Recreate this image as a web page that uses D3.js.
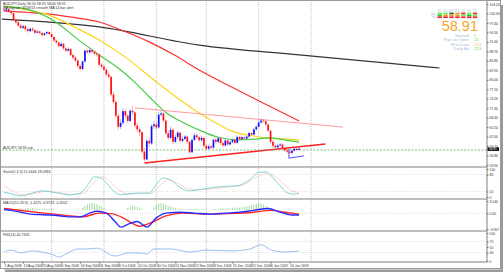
<!DOCTYPE html>
<html>
<head>
<meta charset="utf-8">
<script src="https://cdn.jsdelivr.net/npm/d3@7"></script>
<style>
  body { margin: 0; background: #fff; }
  text { font-family: "Liberation Sans", Arial, sans-serif; }
</style>
</head>
<body>
<div id="container"></div>
<script>
// ---- data (AUDJPY daily, 1 Aug 2008 .. 22 Jan 2009) ----
const opens = [
  101.5,101.2,101.6,100.8,100.4,98.3,97.6,96.6,95.9,96.4,
  95.5,94.9,95.6,95.2,94.4,94.8,94.3,93.7,94.2,94.6,
  94.0,93.1,92.0,91.4,90.3,91.0,89.6,88.9,89.4,87.6,
  86.8,85.9,84.2,83.3,85.6,88.9,88.4,89.1,88.6,88.0,
  87.7,84.6,84.0,83.1,81.6,80.9,75.5,73.2,69.0,65.6,
  66.8,70.4,69.0,67.4,70.5,70.0,66.0,64.8,63.9,58.0,
  55.6,61.3,60.5,65.8,66.3,65.4,69.3,69.7,67.5,63.6,
  62.2,64.7,61.0,62.5,63.8,61.3,61.9,62.6,61.0,57.8,
  61.6,63.0,62.4,61.5,62.2,59.8,58.9,59.6,59.2,61.6,
  61.0,62.1,60.6,59.9,61.4,60.2,60.9,61.6,60.7,62.5,
  61.8,62.4,62.0,62.6,63.7,63.2,64.8,65.6,66.9,67.5,
  67.3,66.3,64.4,61.0,59.8,59.3,59.9,60.2,59.0,58.4,
  58.0,57.6,58.3,58.9,58.5
];
const closes = [
  101.2,101.6,100.8,100.4,98.3,97.6,96.6,95.9,96.4,95.5,
  94.9,95.6,95.2,94.4,94.8,94.3,93.7,94.2,94.6,94.0,
  93.1,92.0,91.4,90.3,91.0,89.6,88.9,89.4,87.6,86.8,
  85.9,84.2,83.3,85.6,88.9,88.4,89.1,88.6,88.0,87.7,
  84.6,84.0,83.1,81.6,80.9,75.5,73.2,69.0,65.6,66.8,
  70.4,69.0,67.4,70.5,70.0,66.0,64.8,63.9,58.0,55.6,
  61.3,60.5,65.8,66.3,65.4,69.3,69.7,67.5,63.6,62.2,
  64.7,61.0,62.5,63.8,61.3,61.9,62.6,61.0,57.8,61.6,
  63.0,62.4,61.5,62.2,59.8,58.9,59.6,59.2,61.6,61.0,
  62.1,60.6,59.9,61.4,60.2,60.9,61.6,60.7,62.5,61.8,
  62.4,62.0,62.6,63.7,63.2,64.8,65.6,66.9,67.5,67.3,
  66.3,64.4,61.0,59.8,59.3,59.9,60.2,59.0,58.4,58.0,
  57.6,58.3,58.9,58.5,58.91
];
const highs = [
  102.1,102.0,101.9,101.2,100.6,98.8,97.9,97.1,96.9,96.8,
  95.9,96.0,96.1,95.5,95.3,95.1,94.6,94.6,95.0,94.9,
  94.3,93.4,92.4,91.8,91.5,91.2,90.1,89.9,89.6,88.1,
  87.3,86.2,84.8,85.9,89.3,89.6,89.7,89.5,89.0,88.5,
  88.0,85.2,84.7,83.5,82.3,81.3,76.4,73.8,69.8,67.9,
  71.3,71.0,69.6,71.1,72.0,70.4,66.9,65.5,64.3,59.1,
  61.9,62.4,66.4,67.4,67.0,70.1,70.6,70.0,67.9,64.5,
  65.6,65.1,63.2,64.4,64.1,62.7,63.1,62.9,61.3,62.0,
  63.6,63.5,62.8,62.9,62.5,60.4,60.2,60.1,62.0,62.1,
  62.7,62.4,61.1,61.9,61.7,61.4,62.0,61.9,63.0,62.8,
  62.8,62.7,63.0,64.1,64.0,65.2,66.1,67.3,68.2,68.0,
  67.6,66.6,64.6,61.5,60.3,60.4,60.7,60.5,59.4,58.8,
  58.3,58.7,59.3,59.2,59.3
];
const lows = [
  100.9,100.8,100.5,99.9,97.9,97.0,96.1,95.4,95.5,95.0,
  94.4,94.6,94.8,94.0,94.1,93.9,93.2,93.4,93.9,93.6,
  92.7,91.6,90.9,89.9,90.0,89.1,88.4,88.5,87.1,86.2,
  85.3,83.6,82.5,82.9,85.2,87.9,88.0,88.1,87.4,87.0,
  84.0,83.3,82.6,80.9,80.2,74.8,72.4,68.2,64.6,64.9,
  66.2,68.1,66.7,67.0,69.2,65.3,63.9,62.8,57.2,54.9,
  55.2,59.3,60.1,65.0,64.6,65.0,68.8,66.9,63.0,61.6,
  61.8,60.3,60.6,61.9,60.6,60.9,61.5,60.5,57.3,57.5,
  61.2,61.8,60.9,61.1,59.2,58.4,58.5,58.7,58.9,60.4,
  60.6,60.0,59.3,59.6,59.8,59.9,60.5,60.2,60.4,61.4,
  61.5,61.6,61.7,62.3,62.8,63.0,64.5,65.3,66.6,66.8,
  65.9,63.9,60.5,59.2,58.8,58.9,59.6,58.6,57.9,57.4,
  57.1,57.2,58.0,58.1,58.4
];

// moving averages, [bar index, price]
const maGreen = [[0,102.4],[7,102.0],[19,98.9],[33,91.3],[40,87.6],[48,83.6],[55,79.2],[61,74.8],[68,70.0],[75,67.0],[82,64.6],[90,62.4],[99,61.6],[105,61.8],[111,62.2],[118,61.6],[124,60.9]];
const maYellow = [[0,102.6],[8,101.6],[19,99.8],[30,96.0],[40,92.2],[52,86.4],[63,79.9],[74,73.8],[82,69.8],[90,66.4],[96,64.2],[103,63.0],[110,62.2],[117,61.9],[124,61.6]];
const maRed = [[0,101.0],[10,100.6],[19,100.1],[30,99.0],[40,97.7],[50,95.0],[61,91.6],[72,87.4],[82,83.0],[95,78.0],[108,73.2],[124,67.4]];
const maBlack = [[-1,98.6],[40,96.2],[82,90.6],[124,87.6],[183,83.6]];

// drawn trend lines, [bar index, price]
const lineResist = [[55,71.4],[142.5,65.5]];
const lineSupport = [[59,54.5],[135,60.3]];
const lineBlue = [[119.7,58.8],[119.7,56.0],[126,56.7]];
const askPrice = 58.5;
const lastPrice = "58.91";

// indicators, [bar index, value]
const stochMain = [[0,17],[2,14],[7,4],[12,14],[16,22],[20,18],[24,12],[27,7],[32,14],[35,40],[38,72],[40,70],[43,50],[46,22],[49,8],[53,12],[57,14],[61,14],[64,45],[67,68],[70,60],[74,34],[78,22],[83,28],[88,34],[93,38],[98,40],[103,60],[107,88],[110,90],[113,69],[116,40],[119,15],[122,10],[124,14]];
const stochSignal = [[0,40],[3,24],[8,8],[13,13],[18,20],[23,16],[28,10],[33,12],[37,45],[41,72],[44,58],[48,28],[52,10],[57,13],[62,14],[66,45],[69,62],[73,48],[77,32],[82,26],[88,30],[95,36],[101,45],[106,70],[110,85],[114,72],[118,42],[121,22],[124,16]];
const macdMain = [[0,1.0],[3,0.77],[7,0.3],[11,-0.18],[15,-0.3],[19,-0.41],[24,-0.65],[28,-0.89],[32,-0.89],[36,0.06],[39,0.53],[43,0.06],[47,-2.31],[49,-3.49],[52,-2.78],[56,-2.07],[60,-3.49],[64,-1.13],[68,0.06],[74,0.3],[80,0.06],[87,-0.18],[93,0.06],[99,0.3],[105,0.77],[111,1.25],[116,0.3],[121,-0.41],[124,-0.41]];
const macdSignal = [[0,1.25],[10,0.53],[19,-0.06],[28,-0.65],[33,-0.89],[40,0.06],[45,-0.06],[50,-1.13],[54,-2.55],[57,-3.26],[62,-2.31],[68,-0.65],[75,0.06],[85,-0.18],[95,-0.06],[105,0.3],[112,0.77],[118,0.3],[124,-0.18]];
const macdHist = [
  0,0,0,0,0,
  0.1,0.15,0.2,0.2,0.25,0.3,0.25,0.3,0.2,0.2,0.15,0.2,0.25,0.2,0.15,0.1,0.1,0.05,
  0,0,0,0,0,0,0,0,0,0,
  0.3,0.6,0.8,0.9,1.0,0.9,0.8,0.7,0.5,0.3,0.1,
  0,0,0,0,0,0,0,0,
  0.3,0.5,0.6,0.5,0.4,0.3,0.2,
  0,0,0,0,
  0.4,0.7,0.9,1.0,0.9,0.8,0.6,0.5,0.4,0.3,
  0.2,0.2,0.15,0.1,0.1,0.1,0.15,0.2,0.2,0.15,0.1,0.1,0.05,0,
  0,0.1,0.15,0.2,0.2,0.25,0.2,0.25,0.3,0.3,0.35,0.3,0.35,
  0.4,0.45,0.5,0.6,0.7,0.8,0.9,1.0,0.9,0.8,0.6,0.4,0.2,
  0,0,0,0,0,0,0,0,0,0,0,0
];
const rsiLine = [[0,32],[3,39],[7,29],[12,36],[16,32],[21,21],[23,14],[26,25],[31,43],[35,43],[39,46],[42,36],[45,21],[47,18],[52,29],[57,29],[60,25],[63,43],[70,43],[78,32],[85,39],[95,36],[103,42],[108,58],[112,40],[118,32],[124,36]];

// axis labels
const priceTicks = [103.20,100.30,97.40,94.50,91.60,88.70,85.80,82.90,80.00,77.10,74.20,71.30,68.40,65.50,62.60,59.70,56.80,53.90];
const stochTicks = [100,80,20,0];
const macdTicks = [3.140,0,-3.967];
const macdTickText = ["3.140","0.00","-3.967"];
const rsiTicks = [100,70,50,30,0];
const dateIdx = [0,8,16,24,32,40,48,56,64,72,80,88,96,104,112,120];
const dateLabels = ["1 Aug 2008","13 Aug 2008","25 Aug 2008","4 Sep 2008","16 Sep 2008","26 Sep 2008","8 Oct 2008","20 Oct 2008","30 Oct 2008","11 Nov 2008","21 Nov 2008","3 Dec 2008","15 Dec 2008","25 Dec 2008","6 Jan 2009","16 Jan 2009"];
const gridIdx = [20,42,64,85,107,129];

// info block
const tfNames = ["M1","M5","M15","M30","H1","H4","D1"];
const tfColors = [
  ["#66ee55","#22cc22","#ee2222"],
  ["#66ee55","#ee9933","#ee2222"],
  ["#226622","#ee9933","#ee2222"],
  ["#ee9933","#ee9933","#ee2222"],
  ["#ee2222","#66ee55","#ee2222"],
  ["#66ee55","#22cc22","#ee2222"],
  ["#ee2222","#66ee55","#ee2222"]
];
const infoNames = ["Spread","Pips to Open","Hi to Low","Daily Av"];
const infoValues = ["6","15","213","215"];
const infoColors = ["#e8cc40","#66dd44","#e8cc40","#66dd44"];

// ---- drawing ----
const W = 504, H = 273;
const plotL = 2, plotR = 487;
const svg = d3.select("#container").append("svg").attr("width", W).attr("height", H);

// window shadow and frame
svg.append("rect").attr("x", 5).attr("y", 5).attr("width", 498).attr("height", 267).attr("fill", "#9a9a9a");
svg.append("rect").attr("x", 4).attr("y", 4).attr("width", 497).attr("height", 266).attr("fill", "#c8c8c8");
svg.append("rect").attr("x", 0.5).attr("y", 0.5).attr("width", 500).attr("height", 268).attr("fill", "#fff").attr("stroke", "#9a9a9a");

const x = d3.scaleLinear().domain([0, 100]).range([4, 242]);
const panels = {
  main: { top: 2, bottom: 167 },
  stoch: { top: 167, bottom: 199 },
  macd: { top: 199, bottom: 231 },
  rsi: { top: 231, bottom: 262 }
};
const yPrice = d3.scaleLinear().domain([53.9, 103.2]).range([165, 4]);
const yStoch = d3.scaleLinear().domain([0, 100]).range([197, 169]);
const yMacd = d3.scaleLinear().domain([-3.967, 3.14]).range([229, 201]);
const yHist = d3.scaleLinear().domain([0, 1]).range([210, 203]);
const yRsi = d3.scaleLinear().domain([0, 100]).range([261, 233]);

const defs = svg.append("defs");
Object.entries(panels).forEach(([k, p]) => {
  defs.append("clipPath").attr("id", "clip-" + k)
    .append("rect").attr("x", plotL).attr("y", p.top).attr("width", plotR - plotL).attr("height", p.bottom - p.top);
});

// vertical grid
svg.append("g").selectAll("line").data(gridIdx).join("line")
  .attr("x1", d => x(d)).attr("x2", d => x(d))
  .attr("y1", 2).attr("y2", 262)
  .attr("stroke", "#b0b0b0").attr("stroke-width", 0.8).attr("stroke-dasharray", "1,1");

// level lines in the indicator windows
const levels = [[yStoch, 80], [yStoch, 20], [yMacd, 0], [yRsi, 70], [yRsi, 30]];
svg.append("g").selectAll("line").data(levels).join("line")
  .attr("x1", plotL).attr("x2", plotR)
  .attr("y1", d => d[0](d[1])).attr("y2", d => d[0](d[1]))
  .attr("stroke", "#c8c8c8").attr("stroke-width", 0.6).attr("stroke-dasharray", "1,1.5");

// ---- main window ----
const gMain = svg.append("g").attr("clip-path", "url(#clip-main)");
const lineP = d3.line().x(d => x(d[0])).y(d => yPrice(d[1])).curve(d3.curveMonotoneX);
const lineStraight = d3.line().x(d => x(d[0])).y(d => yPrice(d[1]));

gMain.append("path").datum(maBlack).attr("d", lineP).attr("fill", "none").attr("stroke", "#333").attr("stroke-width", 1.2);
gMain.append("path").datum(maRed).attr("d", lineP).attr("fill", "none").attr("stroke", "#ff3030").attr("stroke-width", 1.2);
gMain.append("path").datum(maYellow).attr("d", lineP).attr("fill", "none").attr("stroke", "#ffd21a").attr("stroke-width", 1.2);
gMain.append("path").datum(maGreen).attr("d", lineP).attr("fill", "none").attr("stroke", "#44cc44").attr("stroke-width", 1.2);

gMain.append("path").datum(lineResist).attr("d", lineStraight).attr("fill", "none").attr("stroke", "#ff9a9a").attr("stroke-width", 1);
gMain.append("path").datum(lineSupport).attr("d", lineStraight).attr("fill", "none").attr("stroke", "#ff2020").attr("stroke-width", 1.5);
gMain.append("path").datum(lineBlue).attr("d", lineStraight).attr("fill", "none").attr("stroke", "#3a3aff").attr("stroke-width", 0.9);

// ask line
gMain.append("line").attr("x1", plotL).attr("x2", plotR)
  .attr("y1", yPrice(askPrice)).attr("y2", yPrice(askPrice))
  .attr("stroke", "#55aa55").attr("stroke-width", 0.8).attr("stroke-dasharray", "2,1.5");
svg.append("text").attr("x", 3).attr("y", yPrice(askPrice) - 1).attr("font-size", 3.5).attr("fill", "#333")
  .text("AUDJPY 58.93 ask");

// candles
const bars = d3.range(closes.length);
const candle = gMain.append("g").selectAll("g").data(bars).join("g");
candle.append("line")
  .attr("x1", i => x(i)).attr("x2", i => x(i))
  .attr("y1", i => yPrice(highs[i])).attr("y2", i => yPrice(lows[i]))
  .attr("stroke", i => closes[i] >= opens[i] ? "#8c8cff" : "#ff9090").attr("stroke-width", 0.7);
candle.append("rect")
  .attr("x", i => x(i) - 0.85).attr("width", 1.7)
  .attr("y", i => yPrice(Math.max(opens[i], closes[i])))
  .attr("height", i => Math.max(0.6, Math.abs(yPrice(opens[i]) - yPrice(closes[i]))))
  .attr("fill", i => closes[i] >= opens[i] ? "#1010ff" : "#ff1010");

// header text
svg.append("text").attr("x", 3).attr("y", 4.5).attr("font-size", 3.6).attr("fill", "#333")
  .text("AUDJPY,Daily  58.50 58.95 58.44 58.91");
svg.append("text").attr("x", 3).attr("y", 8.5).attr("font-size", 3.6).attr("fill", "#333")
  .text("MA signals: 3/5/8/13 smooth MA 14 bar alert");

// info block (top right)
const info = svg.append("g");
tfNames.forEach((n, c) => {
  const bx = 437.5 + c * 5.9;
  info.append("text").attr("x", bx + 2.1).attr("y", 11.5).attr("font-size", 2.8).attr("fill", "#b8c4d4")
    .attr("text-anchor", "middle").text(n);
  tfColors[c].forEach((col, r) => {
    info.append("rect").attr("x", bx).attr("y", 12.6 + r * 1.9).attr("width", 4.4).attr("height", 1.7).attr("fill", col);
  });
});
["Sig", "Trd"].forEach((t, r) => {
  info.append("text").attr("x", 435).attr("y", 14.8 + r * 2.8).attr("font-size", 2.8).attr("fill", "#a8bcd8")
    .attr("text-anchor", "end").text(t);
});
info.append("text").attr("x", 478).attr("y", 31).attr("font-size", 14.5).attr("fill", "#f7a52c")
  .attr("text-anchor", "end").text(lastPrice);
infoNames.forEach((n, r) => {
  info.append("text").attr("x", 469).attr("y", 36.6 + r * 4.6).attr("font-size", 4.4).attr("fill", "#a8bcd8")
    .attr("text-anchor", "end").text(n);
  info.append("text").attr("x", 474).attr("y", 36.6 + r * 4.6).attr("font-size", 4.4).attr("fill", infoColors[r])
    .text(infoValues[r]);
});

// ---- stochastic ----
const gSt = svg.append("g").attr("clip-path", "url(#clip-stoch)");
const lineS = d3.line().x(d => x(d[0])).y(d => yStoch(d[1])).curve(d3.curveMonotoneX);
gSt.append("path").datum(stochSignal).attr("d", lineS).attr("fill", "none").attr("stroke", "#ffa8a8").attr("stroke-width", 0.8).attr("stroke-dasharray", "1.5,0.8");
gSt.append("path").datum(stochMain).attr("d", lineS).attr("fill", "none").attr("stroke", "#70d0d0").attr("stroke-width", 0.9);
svg.append("text").attr("x", 3).attr("y", 172.5).attr("font-size", 3.6).attr("fill", "#333").text("Stoch(5,3,3) 21.0446 18.0384");

// ---- macd ----
const gM = svg.append("g").attr("clip-path", "url(#clip-macd)");
gM.append("g").selectAll("line").data(bars.filter(i => macdHist[i] > 0)).join("line")
  .attr("x1", i => x(i)).attr("x2", i => x(i))
  .attr("y1", yHist(0)).attr("y2", i => yHist(macdHist[i]))
  .attr("stroke", "#9fd89f").attr("stroke-width", 1);
const lineM = d3.line().x(d => x(d[0])).y(d => yMacd(d[1])).curve(d3.curveMonotoneX);
gM.append("path").datum(macdSignal).attr("d", lineM).attr("fill", "none").attr("stroke", "#ff2a2a").attr("stroke-width", 1.4);
gM.append("path").datum(macdMain).attr("d", lineM).attr("fill", "none").attr("stroke", "#2a2aff").attr("stroke-width", 1.4);
svg.append("text").attr("x", 3).attr("y", 204).attr("font-size", 3.6).attr("fill", "#333").text("MACD(12,26,9) -1.4225 -0.9723 -0.4502");

// ---- rsi ----
const gR = svg.append("g").attr("clip-path", "url(#clip-rsi)");
const lineR = d3.line().x(d => x(d[0])).y(d => yRsi(d[1])).curve(d3.curveMonotoneX);
gR.append("path").datum(rsiLine).attr("d", lineR).attr("fill", "none").attr("stroke", "#8ab8f0").attr("stroke-width", 0.9);
svg.append("text").attr("x", 3).attr("y", 235.5).attr("font-size", 3.6).attr("fill", "#333").text("RSI(14) 40.7163");

// ---- window separators ----
svg.append("g").selectAll("line").data([167, 199, 231, 262]).join("line")
  .attr("x1", 1).attr("x2", plotR).attr("y1", d => d).attr("y2", d => d)
  .attr("stroke", "#808080").attr("stroke-width", 1.1);
svg.append("line").attr("x1", plotR).attr("x2", plotR).attr("y1", 1).attr("y2", 262)
  .attr("stroke", "#808080").attr("stroke-width", 1);

// ---- right axes ----
function rightAxis(scale, ticks, fmt) {
  const g = svg.append("g").attr("transform", `translate(${plotR},0)`)
    .call(d3.axisRight(scale).tickValues(ticks).tickSize(1.5).tickPadding(1).tickFormat(fmt));
  g.select(".domain").remove();
  g.selectAll("text").attr("font-size", 3.4).attr("fill", "#333").attr("font-family", "Liberation Sans, Arial, sans-serif");
  g.selectAll("line").attr("stroke", "#666");
  return g;
}
rightAxis(yPrice, priceTicks, d3.format(".2f"));
rightAxis(yStoch, stochTicks, d3.format("d"));
rightAxis(yMacd, macdTicks, (d, i) => macdTickText[i]);
rightAxis(yRsi, rsiTicks, d3.format("d"));

// last price marker
const ly = yPrice(+lastPrice) + 0.4;
svg.append("rect").attr("x", plotR + 0.5).attr("y", ly - 1.7).attr("width", 11.5).attr("height", 3.6).attr("fill", "#111");
svg.append("text").attr("x", plotR + 2).attr("y", ly + 1.1).attr("font-size", 3.1).attr("fill", "#fff").text(lastPrice);

// ---- date axis ----
const gx = svg.append("g").attr("transform", "translate(0,262)")
  .call(d3.axisBottom(x).tickValues(dateIdx).tickSize(1.5).tickPadding(1).tickFormat((d, i) => dateLabels[i]));
gx.select(".domain").remove();
gx.selectAll("text").attr("font-size", 3.4).attr("fill", "#333").attr("text-anchor", "start")
  .attr("font-family", "Liberation Sans, Arial, sans-serif");
gx.selectAll("line").attr("stroke", "#666");
</script>
</body>
</html>
